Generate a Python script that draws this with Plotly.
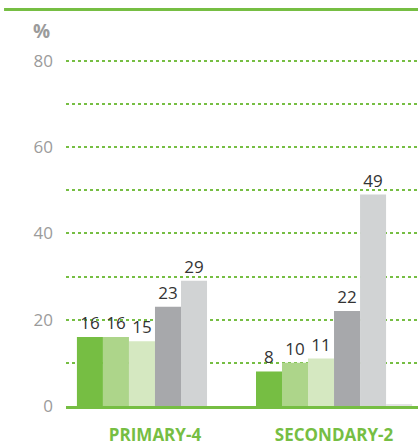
import plotly.graph_objects as go

categories = ["PRIMARY-4", "SECONDARY-2"]
series_names = ["S1", "S2", "S3", "S4", "S5", "S6"]
series_values = [
    [16, 8],
    [16, 10],
    [15, 11],
    [23, 22],
    [29, 49],
    [0, 0.4],
]
series_labels = [
    ["16", "8"],
    ["16", "10"],
    ["15", "11"],
    ["23", "22"],
    ["29", "49"],
    ["", ""],
]
colors = ["#76BE43", "#ADD58A", "#D5E8C1", "#A7A8AB", "#D1D3D4", "#E3E4E5"]
y_ticks = [0, 20, 40, 60, 80]

fig = go.Figure()
for name, vals, labs, col in zip(series_names, series_values, series_labels, colors):
    fig.add_trace(go.Bar(
        x=categories, y=vals, name=name, marker_color=col, marker_line_width=0,
        text=labs, textposition="outside", cliponaxis=False, constraintext="none",
        textfont=dict(color="#333333", size=17, family="Open Sans"),
        hoverinfo="skip",
    ))

fig.update_layout(
    width=418, height=448,
    margin=dict(l=66, r=0, t=50, b=42),
    paper_bgcolor="white", plot_bgcolor="white",
    barmode="group", bargap=0.128, bargroupgap=0,
    showlegend=False,
    font=dict(family="Open Sans"),
)
fig.update_xaxes(
    range=[-0.497, 1.469],
    showline=True, linecolor="#76BE43", linewidth=3,
    ticks="outside", ticklen=12, tickcolor="rgba(0,0,0,0)",
    tickfont=dict(color="#76BE43", size=17, family="Open Sans", weight="bold"),
    showgrid=False, zeroline=False,
)
fig.update_yaxes(
    range=[0, 82.5],
    tickvals=y_ticks, ticktext=[str(v) for v in y_ticks],
    tickfont=dict(color="#9B9B9B", size=17, family="Open Sans"),
    ticklabelstandoff=12,
    showgrid=True, gridcolor="#76BE43", griddash="dot", gridwidth=2,
    minor=dict(dtick=10, tick0=0, showgrid=True, gridcolor="#76BE43", griddash="dot", gridwidth=2),
    zeroline=False, showline=False,
)
fig.add_shape(type="line", xref="paper", yref="paper",
              x0=-0.176, x1=1.0, y0=(448 - 9.5 - 42) / 356, y1=(448 - 9.5 - 42) / 356,
              line=dict(color="#76BE43", width=3))
fig.add_annotation(text="<b>%</b>", xref="paper", yref="paper",
                   x=-0.07, y=(448 - 31 - 42) / 356, xanchor="center", yanchor="middle",
                   showarrow=False, font=dict(color="#9B9B9B", size=19, family="Open Sans"))

fig.write_html("out.html", config={"displayModeBar": False},
               post_script="document.body.style.margin='0';")
